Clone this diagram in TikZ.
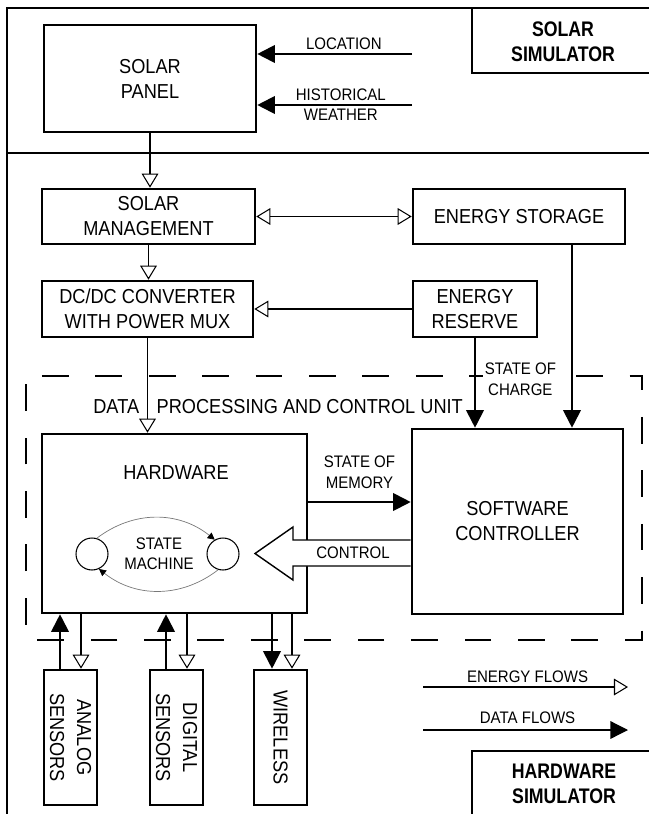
\documentclass[tikz,border=0pt]{standalone}
\usepackage{fontspec}
\setmainfont{Liberation Sans}[FakeStretch=0.9]
\newfontfamily\titlefont{Liberation Sans}[FakeStretch=0.84]
\usepackage{tikz}
\usetikzlibrary{arrows.meta, positioning, calc}
\definecolor{arcgray}{RGB}{120,120,120}

\begin{document}
\begin{tikzpicture}[x=0.02cm, y=-0.02cm,
  block/.style={draw, line width=1.5pt, align=center, inner sep=0pt,
                font=\fontsize{11.5}{14.2}\selectfont},
  blocktext/.style={align=center, inner sep=0pt, font=\fontsize{11.5}{15.4}\selectfont},
  flowlabel/.style={font=\fontsize{9.5}{12}\selectfont, align=center, inner sep=1pt},
  simtitle/.style={font=\titlefont\bfseries\fontsize{12}{14.5}\selectfont, align=center},
  frameline/.style={line width=0.7pt},
  eflow/.style={line width=1.1pt, -{Triangle[open, length=8pt, width=9.5pt, line width=0.6pt]}},
  ethin/.style={eflow, line width=0.6pt},
  ebi/.style={line width=0.6pt, {Triangle[open, length=8pt, width=9.5pt]}-{Triangle[open, length=8pt, width=9.5pt]}},
  dflow/.style={line width=1.1pt, -{Triangle[length=10pt, width=10pt]}},
  dthin/.style={dflow, line width=0.7pt},
  unitbox/.style={line width=0.7pt, dash pattern=on 15.2pt off 15.2pt, dash phase=21.3pt},
  fatarrow/.style={line width=0.8pt, fill=white},
  smstate/.style={circle, draw, line width=0.6pt, minimum size=0.64cm, inner sep=0pt},
  smarc/.style={arcgray, line width=0.4pt, -{Triangle[length=4pt, width=4pt, black]}},
]
\useasboundingbox (0,0) rectangle (649,814);

\draw[frameline] (7,814) -- (7,8) -- (649,8);
\draw[frameline] (7,153) -- (649,153);
\draw[frameline] (472,8) -- (472,73) -- (649,73);
\draw[frameline] (472,814) -- (472,751) -- (649,751);
\node[simtitle] (solarsim) at (563,42) {SOLAR\\SIMULATOR};
\node[simtitle] (hwsim)    at (564,784) {HARDWARE\\SIMULATOR};

\draw[unitbox] (26,376) -- (642,376) -- (642,640) -- (26,640) -- cycle;
\node[anchor=west, inner sep=0pt, font=\fontsize{11.5}{14}\selectfont] (unitlbl) at (93,407)
    {DATA\hspace{10pt}PROCESSING AND CONTROL UNIT};

\node[block, minimum width=4.24cm, minimum height=2.14cm] (panel)   at (150,78.5)  {SOLAR\\PANEL};
\node[block, minimum width=4.26cm, minimum height=1.1cm]  (mgmt)    at (148.5,216.5) {SOLAR\\MANAGEMENT};
\node[block, minimum width=4.24cm, minimum height=1.1cm]  (storage) at (519,216.5) {ENERGY STORAGE};
\node[block, minimum width=4.22cm, minimum height=1.12cm] (dcdc)    at (147.5,309) {DC/DC CONVERTER\\WITH POWER MUX};
\node[block, minimum width=2.48cm, minimum height=1.12cm] (reserve) at (475,309)   {ENERGY\\RESERVE};
\node[block, minimum width=5.3cm,  minimum height=3.58cm] (hw)      at (174.5,523.5) {};
\node[block, minimum width=4.22cm, minimum height=3.7cm]  (sw)      at (517.5,521.5) {SOFTWARE\\CONTROLLER};
\node[blocktext] (hwlbl) at (176,473) {HARDWARE};

\node[block, minimum width=1.06cm, minimum height=2.7cm] (analog)   at (70.5,737.5)  {};
\node[block, minimum width=1.06cm, minimum height=2.7cm] (digital)  at (176.5,737.5) {};
\node[block, minimum width=1.06cm, minimum height=2.7cm] (wireless) at (280.5,737.5) {};
\node[blocktext, rotate=-90] (analoglbl)   at (analog)   {ANALOG\\SENSORS};
\node[blocktext, rotate=-90] (digitallbl)  at (digital)  {DIGITAL\\SENSORS};
\node[blocktext, rotate=-90] (wirelesslbl) at (wireless) {WIRELESS};

\coordinate (loc)  at (412,54);
\coordinate (hist) at (412,105);
\draw[dflow] (loc) -- (loc -| panel.east) node[flowlabel, pos=0.44, above=1pt] {LOCATION};
\draw[dflow] (hist) -- (hist -| panel.east)
    node[flowlabel, pos=0.46, font=\fontsize{9.5}{11.4}\selectfont] {HISTORICAL\\WEATHER};

\draw[eflow] (panel.south) -- (panel.south |- mgmt.north);
\draw[eflow] (mgmt.south) -- (mgmt.south |- dcdc.north);
\draw[ebi] (mgmt.east) -- (storage.west);
\draw[ethin] (reserve.west) -- (dcdc.east);
\draw[eflow] (dcdc.south) -- (dcdc.south |- hw.north);

\draw[dflow] (reserve.south) -- (reserve.south |- sw.north)
    node[flowlabel, fill=white, pos=0.46, right=4pt] {STATE OF\\CHARGE};
\draw[dflow] ([xshift=1.06cm]storage.south) -- ([xshift=1.06cm]storage.south |- sw.north);

\draw[dflow] ([yshift=0.43cm]hw.east) -- ([yshift=0.43cm]hw.east -| sw.west)
    node[flowlabel, midway, above=6pt] {STATE OF\\MEMORY};
\draw[fatarrow] ([yshift=-0.37cm]sw.west) -- (293,540) -- (293,527) -- (255,553.5)
    -- (293,580) -- (293,566) -- ([yshift=-0.89cm]sw.west);
\node[flowlabel] (ctrl) at (353,553) {CONTROL};

\node[smstate] (sa) at (92,554) {};
\node[smstate] (sb) at (223,554) {};
\node[flowlabel, font=\fontsize{9.5}{11.5}\selectfont] (smlbl) at (159,554) {STATE\\MACHINE};
\draw[smarc] (sa.73) to[bend left=38] (sb.120);
\draw[smarc] (sb.253) to[bend left=38] (sa.295);

\foreach \s in {analog, digital} {
  \draw[dflow] ([xshift=-0.21cm]\s.north) -- ([xshift=-0.21cm]\s.north |- hw.south);
  \draw[eflow] ([xshift=0.21cm]\s.north |- hw.south) -- ([xshift=0.21cm]\s.north);
}
\draw[dflow] ([xshift=-0.17cm]wireless.north |- hw.south) -- ([xshift=-0.17cm]wireless.north);
\draw[eflow] ([xshift=0.23cm]wireless.north |- hw.south) -- ([xshift=0.23cm]wireless.north);

\coordinate (eleft)  at (423,687);
\coordinate (eright) at (628,687);
\coordinate (dleft)  at (423,730);
\coordinate (dright) at (628,730);
\draw[ethin] (eleft) -- (eright) node[flowlabel, pos=0.51, above=1pt] {ENERGY FLOWS};
\draw[dthin] (dleft) -- (dright) node[flowlabel, pos=0.51, above=2pt] {DATA FLOWS};

\end{tikzpicture}
\end{document}
